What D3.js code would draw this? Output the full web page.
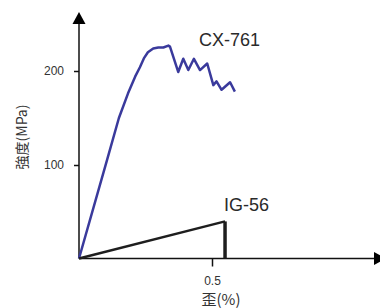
<!DOCTYPE html>
<html>
<head>
<meta charset="utf-8">
<script src="https://cdn.jsdelivr.net/npm/d3@7"></script>
<style>
  body { margin: 0; background: #fff; }
  svg { display: block; }
  text { font-family: "Liberation Sans", Arial, sans-serif; }
</style>
</head>
<body>
<div id="chart"></div>
<script>
// strain (%) and strength (MPa)
const cxStrain = [0, 0.105, 0.150, 0.184, 0.211, 0.229, 0.245, 0.259, 0.279, 0.298, 0.317, 0.336, 0.342,
  0.373, 0.392, 0.411, 0.432, 0.455, 0.482, 0.505, 0.517, 0.536, 0.568, 0.586];
const cxStress = [0, 105, 150, 176, 194, 204, 214, 220, 224, 225, 225, 227, 226,
  199, 213, 201, 213, 201, 208, 185, 189, 180, 188, 178];
const igStrain = [0, 0.549, 0.549];
const igStress = [0, 40, 0];
const yTicks = [100, 200];
const xTicks = [0.5];

const width = 380, height = 308;

const svg = d3.select('#chart')
  .append('svg')
  .attr('width', width)
  .attr('height', height);

const x = d3.scaleLinear().domain([0, 1]).range([79, 345]);
const y = d3.scaleLinear().domain([0, 200]).range([259, 71]);

const x0 = x(0), yBase = 258.5;

// axes with arrow heads
svg.append('line')
  .attr('x1', x0).attr('x2', x0)
  .attr('y1', yBase).attr('y2', 22)
  .attr('stroke', '#111').attr('stroke-width', 1.5);
svg.append('path')
  .attr('d', `M${x0},12 L${x0 - 6.5},24 L${x0 + 6.5},24 Z`)
  .attr('fill', '#000');

svg.append('line')
  .attr('x1', x0).attr('x2', 376)
  .attr('y1', yBase).attr('y2', yBase)
  .attr('stroke', '#111').attr('stroke-width', 1.5);
svg.append('path')
  .attr('d', `M386,${yBase} L374,${yBase - 6.5} L374,${yBase + 6.5} Z`)
  .attr('fill', '#000');

const yAxis = svg.append('g')
  .attr('transform', `translate(${x0},0)`)
  .call(d3.axisLeft(y).tickValues(yTicks).tickSize(5).tickPadding(10));
yAxis.select('.domain').remove();

const xAxis = svg.append('g')
  .attr('transform', `translate(0,${yBase})`)
  .call(d3.axisBottom(x).tickValues(xTicks).tickSize(8).tickPadding(10).tickFormat(d3.format('.1f')));
xAxis.select('.domain').remove();

svg.selectAll('.tick line').attr('stroke', '#111').attr('stroke-width', 1.5);
svg.selectAll('.tick text')
  .attr('fill', '#333')
  .style('font-size', '12px')
  .style('font-family', '"Liberation Sans", Arial, sans-serif');

// curves
const cxData = cxStrain.map((s, i) => ({ s: s, v: cxStress[i] }));
const igData = igStrain.map((s, i) => ({ s: s, v: igStress[i] }));

const line = d3.line()
  .x(d => x(d.s))
  .y(d => d.v === 0 ? yBase : y(d.v));

svg.append('path')
  .datum(cxData)
  .attr('fill', 'none')
  .attr('stroke', '#3a3a9c')
  .attr('stroke-width', 2.5)
  .attr('stroke-linejoin', 'round')
  .attr('d', line);

svg.append('path')
  .datum(igData.slice(0, 2))
  .attr('fill', 'none')
  .attr('stroke', '#1e1e1e')
  .attr('stroke-width', 2.5)
  .attr('d', line);

svg.append('path')
  .datum(igData.slice(1))
  .attr('fill', 'none')
  .attr('stroke', '#1e1e1e')
  .attr('stroke-width', 3.5)
  .attr('d', line);

// series labels
svg.append('text')
  .attr('x', 199).attr('y', 46)
  .attr('fill', '#2a2a2a')
  .style('font-size', '18px')
  .text('CX-761');

svg.append('text')
  .attr('x', 224).attr('y', 211)
  .attr('fill', '#2a2a2a')
  .style('font-size', '18px')
  .text('IG-56');

// axis titles
svg.append('text')
  .attr('transform', 'translate(27,137) rotate(-90)')
  .attr('text-anchor', 'middle')
  .attr('fill', '#333')
  .style('font-family', '"Noto Sans CJK JP", sans-serif')
  .style('font-size', '14px')
  .text('強度(MPa)');

svg.append('text')
  .attr('x', 221).attr('y', 305)
  .attr('text-anchor', 'middle')
  .attr('fill', '#333')
  .style('font-family', '"Noto Sans CJK JP", sans-serif')
  .style('font-size', '15px')
  .text('歪(%)');
</script>
</body>
</html>
